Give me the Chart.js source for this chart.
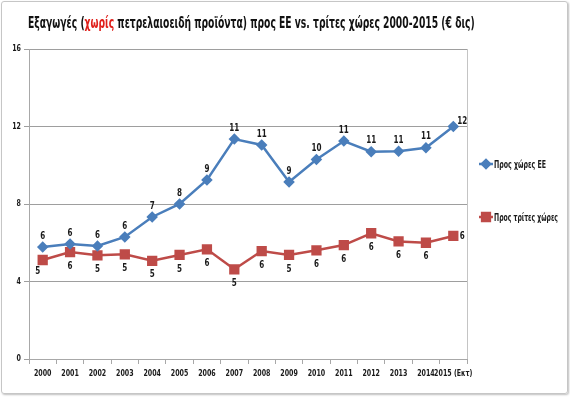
<!DOCTYPE html>
<html>
<head>
<meta charset="utf-8">
<script src="https://cdn.jsdelivr.net/npm/chart.js@4"></script>
<style>
  body { margin: 0; background: #fff; }
  #wrap { position: relative; width: 570px; height: 397px; }
  #frame { position: absolute; left: 1px; top: 1px; width: 565px; height: 391px; border: 1px solid #c6c6c6; border-radius: 3px; box-shadow: 1px 1px 2px rgba(0,0,0,.25); }
  #title { position: absolute; left: 28px; top: 13px; white-space: nowrap; font: bold 16px "Liberation Sans Narrow", "DejaVu Sans Condensed", sans-serif; color: #111; transform-origin: 0 0; }
  #title span { color: #e0201b; }
  canvas { position: absolute; left: 0; top: 0; }
</style>
</head>
<body>
<div id="wrap">
  <div id="frame"></div>
  <canvas id="chart" width="570" height="397"></canvas>
  <div id="title">Εξαγωγές (<span>χωρίς</span> πετρελαιοειδή προϊόντα) προς ΕΕ vs. τρίτες χώρες 2000-2015 (€ δις)</div>
</div>
<script>
const years = ['2000', '2001', '2002', '2003', '2004', '2005', '2006', '2007', '2008', '2009', '2010', '2011', '2012', '2013', '2014', '2015 (Εκτ)'];
const euExports = [5.78, 5.94, 5.83, 6.3, 7.33, 8.0, 9.24, 11.35, 11.05, 9.14, 10.3, 11.25, 10.7, 10.72, 10.9, 12.0];
const thirdExports = [5.11, 5.52, 5.35, 5.4, 5.07, 5.37, 5.66, 4.63, 5.57, 5.37, 5.61, 5.88, 6.49, 6.07, 6.0, 6.35];
const yTicks = [0, 4, 8, 12, 16];
const seriesNames = ['Προς χώρες ΕΕ', 'Προς τρίτες χώρες'];

const FONT = '"Liberation Sans Narrow", "DejaVu Sans Condensed", sans-serif';
const BLUE = '#4a7ebb';
const RED = '#be4b48';
const INK = '#1a1a1a';

// squeeze the title to the width it has in the picture
const title = document.getElementById('title');
title.style.transform = `scaleX(${447 / title.offsetWidth})`;

// the original uses a narrow font, so text is drawn squeezed sideways
function squeezed(ctx, txt, x, y, sx, align) {
  ctx.save();
  ctx.translate(x, y);
  ctx.scale(sx, 1);
  ctx.textAlign = align || 'center';
  ctx.fillText(txt, 0, 0);
  ctx.restore();
}

function fitted(ctx, txt, x, y, w) {
  squeezed(ctx, txt, x, y, w / ctx.measureText(txt).width, 'left');
}

const extras = {
  id: 'extras',
  afterDatasetsDraw(chart) {
    const ctx = chart.ctx;
    const area = chart.chartArea;
    const xs = chart.scales.x, ys = chart.scales.y;
    ctx.save();
    ctx.strokeStyle = '#c4c4c4';
    ctx.lineWidth = 1;
    ctx.beginPath();
    ctx.moveTo(area.right + 0.5, area.top);
    ctx.lineTo(area.right + 0.5, area.bottom);
    ctx.stroke();

    ctx.fillStyle = INK;
    ctx.textBaseline = 'middle';
    ctx.font = `bold 9px ${FONT}`;
    years.forEach((y, i) => squeezed(ctx, y, xs.getPixelForValue(i), area.bottom + 15, 0.78));
    yTicks.forEach((v) => squeezed(ctx, String(v), 21, ys.getPixelForValue(v), 0.78, 'right'));

    ctx.font = `bold 10px ${FONT}`;
    chart.data.datasets.forEach((ds, di) => {
      const meta = chart.getDatasetMeta(di);
      meta.data.forEach((pt, i) => {
        const txt = String(Math.round(ds.data[i]));
        let x = pt.x, y = pt.y;
        if (i === ds.data.length - 1) {
          x += 9; y -= di === 0 ? 5 : 0;
        } else if (di === 0) {
          y -= 11;
        } else if (i === 0) {
          x -= 5; y += 11;
        } else {
          y += 14;
        }
        squeezed(ctx, txt, x, y, 0.8);
      });
    });

    // legend
    const items = [{ y: 164, color: BLUE, style: 'rectRot', r: 4, w: 52 }, { y: 217, color: RED, style: 'rect', r: 5.5, w: 64 }];
    items.forEach((it, k) => {
      ctx.strokeStyle = it.color;
      ctx.lineWidth = 2.5;
      ctx.beginPath();
      ctx.moveTo(479, it.y);
      ctx.lineTo(493, it.y);
      ctx.stroke();
      ctx.fillStyle = it.color;
      Chart.helpers.drawPoint(ctx, { pointStyle: it.style, radius: it.r, borderWidth: 1 }, 486, it.y);
      ctx.fill();
      ctx.fillStyle = INK;
      fitted(ctx, seriesNames[k], 494, it.y + 1, it.w);
    });
    ctx.restore();
  }
};

new Chart(document.getElementById('chart'), {
  type: 'line',
  data: {
    labels: years,
    datasets: [
      { label: seriesNames[0], data: euExports, borderColor: BLUE, backgroundColor: BLUE, borderWidth: 2.5, pointStyle: 'rectRot', pointRadius: 4, tension: 0 },
      { label: seriesNames[1], data: thirdExports, borderColor: RED, backgroundColor: RED, borderWidth: 2.5, pointStyle: 'rect', pointRadius: 5.5, tension: 0 },
    ],
  },
  options: {
    responsive: false,
    animation: false,
    layout: { padding: { top: 49, right: 103, bottom: 0, left: 0 } },
    plugins: { legend: { display: false }, tooltip: { enabled: false } },
    scales: {
      y: {
        min: 0,
        max: 16,
        afterBuildTicks: (s) => { s.ticks = yTicks.map((v) => ({ value: v })); },
        afterFit: (s) => { s.width = 29; },
        ticks: { display: false },
        grid: { color: '#9e9e9e', tickLength: 5 },
        border: { color: '#a8a8a8' },
      },
      x: {
        offset: true,
        afterFit: (s) => { s.height = 38; },
        ticks: { display: false, autoSkip: false },
        grid: { offset: true, drawOnChartArea: false, tickLength: 5, color: '#a8a8a8' },
        border: { color: '#a8a8a8' },
      },
    },
  },
  plugins: [extras],
});
</script>
</body>
</html>
